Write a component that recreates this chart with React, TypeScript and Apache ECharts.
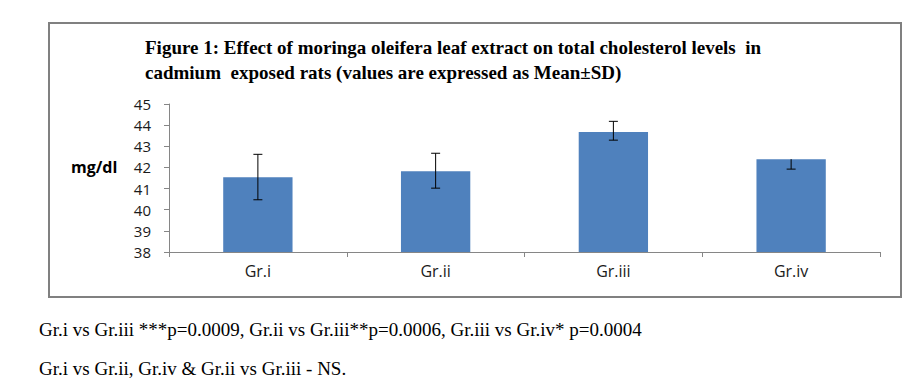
import React, { useEffect, useRef } from "react";
import * as echarts from "echarts";

const categories = ["Gr.i", "Gr.ii", "Gr.iii", "Gr.iv"];
const means = [41.54, 41.82, 43.68, 42.39];
const errLow = [40.47, 41.02, 43.29, 41.92];
const errHigh = [42.62, 42.67, 44.18, 42.39];

const titleLines = [
  "Figure 1: Effect of moringa oleifera leaf extract on total cholesterol levels  in",
  "cadmium  exposed rats (values are expressed as Mean\u00b1SD)",
];
const yAxisTitle = "mg/dl";
const noteLines = [
  "Gr.i vs Gr.iii ***p=0.0009, Gr.ii vs Gr.iii**p=0.0006, Gr.iii vs Gr.iv* p=0.0004",
  "Gr.i vs Gr.ii, Gr.iv & Gr.ii vs Gr.iii - NS.",
];

export default function App() {
  const ref = useRef<HTMLDivElement>(null);
  useEffect(() => {
    if (!ref.current) return;
    const chart = echarts.init(ref.current, null, { renderer: "svg" });
    const errData = categories.map((_, i) => [i, errLow[i], errHigh[i]]);
    chart.setOption({
      animation: false,
      grid: { left: 169, right: 31, top: 104, bottom: 132, containLabel: false },
      xAxis: {
        type: "category",
        data: categories,
        axisLine: { lineStyle: { color: "#868686", width: 1 } },
        axisTick: { show: true, alignWithLabel: false, length: 5, lineStyle: { color: "#868686" } },
        axisLabel: { color: "#1a1a1a", fontFamily: "Open Sans", fontSize: 16, margin: 11 },
      },
      yAxis: {
        type: "value",
        min: 38,
        max: 45,
        interval: 1,
        axisLine: { show: true, lineStyle: { color: "#868686", width: 1 } },
        axisTick: { show: true, length: 5, lineStyle: { color: "#868686" } },
        splitLine: { show: false },
        axisLabel: { color: "#1a1a1a", fontFamily: "Open Sans", fontSize: 15, margin: 18 },
      },
      series: [
        {
          type: "bar",
          data: means,
          barWidth: "39%",
          itemStyle: { color: "#4F81BD" },
        },
        {
          type: "custom",
          data: errData,
          z: 10,
          renderItem: (params: any, api: any) => {
            const x = api.value(0);
            const lo = api.coord([x, api.value(1)]);
            const hi = api.coord([x, api.value(2)]);
            const cap = 4.5;
            const style = { stroke: "#000", lineWidth: 1 };
            const children: any[] = [
              { type: "line", shape: { x1: lo[0], y1: lo[1], x2: hi[0], y2: hi[1] }, style },
              { type: "line", shape: { x1: lo[0] - cap, y1: lo[1], x2: lo[0] + cap, y2: lo[1] }, style },
            ];
            if (api.value(2) !== means[params.dataIndex]) {
              children.push({ type: "line", shape: { x1: hi[0] - cap, y1: hi[1], x2: hi[0] + cap, y2: hi[1] }, style });
            }
            return { type: "group", children };
          },
        },
      ],
      graphic: [
        {
          type: "rect",
          shape: { x: 49, y: 23, width: 852, height: 274 },
          style: { fill: "none", stroke: "#808080", lineWidth: 2 },
          z: 0,
        },
        {
          type: "text",
          x: 145,
          y: 47,
          style: {
            text: titleLines[0],
            font: "bold 19px 'Liberation Serif'",
            fill: "#000",
            verticalAlign: "middle",
          },
        },
        {
          type: "text",
          x: 145,
          y: 72,
          style: {
            text: titleLines[1],
            font: "bold 19px 'Liberation Serif'",
            fill: "#000",
            verticalAlign: "middle",
          },
        },
        {
          type: "text",
          x: 71,
          y: 167,
          style: {
            text: yAxisTitle,
            font: "bold 16px 'Open Sans'",
            fill: "#000",
            verticalAlign: "middle",
          },
        },
        {
          type: "text",
          x: 39,
          y: 329,
          style: {
            text: noteLines[0],
            font: "19px 'Liberation Serif'",
            fill: "#000",
            verticalAlign: "middle",
          },
        },
        {
          type: "text",
          x: 39,
          y: 368,
          style: {
            text: noteLines[1],
            font: "19px 'Liberation Serif'",
            fill: "#000",
            verticalAlign: "middle",
          },
        },
      ],
    });
    return () => chart.dispose();
  }, []);
  return (
    <div
      ref={ref}
      style={{ position: "fixed", left: 0, top: 0, width: 911, height: 384, background: "#fff" }}
    />
  );
}
